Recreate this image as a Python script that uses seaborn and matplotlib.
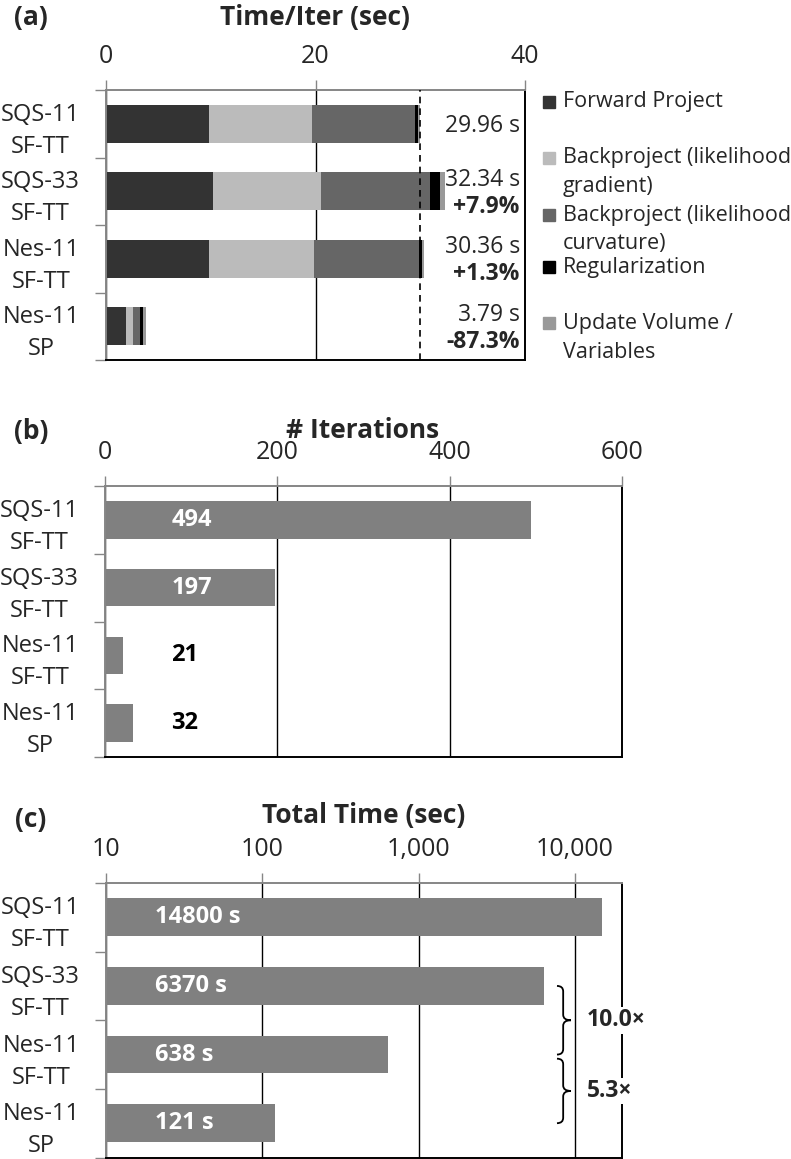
import numpy as np
import matplotlib.pyplot as plt
import seaborn as sns
from matplotlib.path import Path
from matplotlib.patches import PathPatch, Rectangle
import matplotlib.transforms as mtransforms
from matplotlib.ticker import FuncFormatter, NullLocator

sns.set_style('white')
plt.rcParams['font.family'] = ['Open Sans', 'DejaVu Sans']

# ==========================================
# DATA
# ==========================================
methods = ['SQS-11\nSF-TT', 'SQS-33\nSF-TT', 'Nes-11\nSF-TT', 'Nes-11\nSP']

components = ['Forward Project', 'Backproject (likelihood\ngradient)',
              'Backproject (likelihood\ncurvature)', 'Regularization',
              'Update Volume /\nVariables']
component_colors = ['#333333', '#bbbbbb', '#666666', '#000000', '#999999']

# seconds per iteration, per component
forward_project = [9.79, 10.22, 9.88, 1.88]
backproject_grad = [9.85, 10.29, 9.97, 0.65]
backproject_curv = [9.88, 10.42, 10.03, 0.73]
regularization = [0.26, 0.92, 0.25, 0.23]
update_volume = [0.18, 0.49, 0.23, 0.30]
time_per_iter = [29.96, 32.34, 30.36, 3.79]
time_change = ['', '+7.9%', '+1.3%', '-87.3%']

iterations = [494, 197, 21, 32]
total_time = [14800, 6370, 638, 121]
speedups = ['10.0×', '5.3×']

W, H = 791, 1159
GRAY = '#868686'
BAR_GRAY = '#808080'


def fig_axes(fig, left, top, right, bottom):
    # pixel box -> figure fraction
    return fig.add_axes([left / W, 1 - bottom / H, (right - left) / W, (bottom - top) / H])


def style_axes(ax, xticks):
    ax.xaxis.tick_top()
    ax.set_xticks(xticks)
    ax.xaxis.set_minor_locator(NullLocator())
    ax.tick_params(axis='x', which='major', length=7, width=1, color=GRAY,
                   pad=8, labelsize=18, top=True, bottom=False)
    ax.set_xlabel('')
    ax.set_ylabel('')
    ax.set_yticks(range(len(methods)))
    ax.set_yticklabels(methods, fontsize=17, linespacing=1.45, multialignment='center')
    ax.set_yticks(np.arange(-0.5, len(methods), 1), minor=True)
    ax.tick_params(axis='y', which='major', length=0, pad=19, left=True)
    ax.tick_params(axis='y', which='minor', length=8, width=1, color=GRAY, left=True)
    ax.set_ylim(len(methods) - 0.5, -0.5)
    ax.grid(axis='x', color='black', lw=1)
    ax.grid(axis='y', visible=False)
    ax.set_axisbelow(True)
    for side in ['top', 'left']:
        ax.spines[side].set_color(GRAY)
        ax.spines[side].set_linewidth(1.4)
    for side in ['right', 'bottom']:
        ax.spines[side].set_color('black')
        ax.spines[side].set_linewidth(1.4)
        ax.spines[side].set_visible(True)


def brace(ax, ya, yb, x0=0.874, xm=0.886, xt=0.901, d=0.08):
    ym = (ya + yb) / 2
    verts = [(x0, ya), (xm, ya), (xm, ya + d), (xm, ym - d), (xm, ym), (xt, ym),
             (xm, ym), (xm, ym + d), (xm, yb - d), (xm, yb), (x0, yb)]
    codes = [Path.MOVETO, Path.CURVE3, Path.CURVE3, Path.LINETO, Path.CURVE3, Path.CURVE3,
             Path.CURVE3, Path.CURVE3, Path.LINETO, Path.CURVE3, Path.CURVE3]
    trans = mtransforms.blended_transform_factory(ax.transAxes, ax.transData)
    ax.add_patch(PathPatch(Path(verts, codes), transform=trans, fill=False,
                           lw=1.3, color='black', clip_on=False, zorder=5))


fig = plt.figure(figsize=(W / 100, H / 100), dpi=100)

# ==========================================
# (a) Time per iteration, stacked
# ==========================================
ax_a = fig_axes(fig, 106, 90, 525, 360)
layers = np.cumsum(np.array([forward_project, backproject_grad, backproject_curv,
                             regularization, update_volume]), axis=0)
for i in range(len(components) - 1, -1, -1):
    sns.barplot(x=layers[i], y=methods, orient='h', color=component_colors[i],
                saturation=1, width=0.56, errorbar=None, linewidth=0, ax=ax_a)
ax_a.set_xlim(0, 40)
style_axes(ax_a, [0, 20, 40])
ax_a.axvline(time_per_iter[0], color='black', lw=1.2, ls=(0, (4, 3)), zorder=4)
for i, (t, ch) in enumerate(zip(time_per_iter, time_change)):
    if ch:
        ax_a.text(39.5, i - 0.17, f'{t:.2f} s', ha='right', va='center', fontsize=16.5)
        ax_a.text(39.5, i + 0.23, ch, ha='right', va='center', fontsize=16.5, fontweight='bold')
    else:
        ax_a.text(39.5, i + 0.04, f'{t:.2f} s', ha='right', va='center', fontsize=16.5)

# legend drawn by hand to match the spreadsheet layout
legend_y = [102, 158, 215, 267, 323]
for label, color, y in zip(components, component_colors, legend_y):
    fig.patches.append(Rectangle((543 / W, 1 - (y + 6) / H), 12 / W, 12 / H,
                                 transform=fig.transFigure, color=color))
    for k, line in enumerate(label.split('\n')):
        fig.text(563 / W, 1 - (y + 29 * k) / H, line, ha='left', va='center', fontsize=15.5)

fig.text(315 / W, 1 - 17 / H, 'Time/Iter (sec)', ha='center', va='center',
         fontsize=19, fontweight='bold')
fig.text(31 / W, 1 - 17 / H, '(a)', ha='center', va='center', fontsize=19, fontweight='bold')

# ==========================================
# (b) Number of iterations
# ==========================================
ax_b = fig_axes(fig, 105, 486, 622, 757)
sns.barplot(x=iterations, y=methods, orient='h', color=BAR_GRAY, saturation=1,
            width=0.55, errorbar=None, linewidth=0, ax=ax_b)
ax_b.set_xlim(0, 600)
style_axes(ax_b, [0, 200, 400, 600])
for i, n in enumerate(iterations):
    ax_b.text(77, i, str(n), ha='left', va='center', fontsize=17, fontweight='bold',
              color='white' if n > 77 else 'black')

fig.text(363 / W, 1 - 430 / H, '# Iterations', ha='center', va='center',
         fontsize=19, fontweight='bold')
fig.text(31 / W, 1 - 432 / H, '(b)', ha='center', va='center', fontsize=19, fontweight='bold')

# ==========================================
# (c) Total time, log scale
# ==========================================
ax_c = fig_axes(fig, 106, 883, 622, 1157.5)
sns.barplot(x=total_time, y=methods, orient='h', color=BAR_GRAY, saturation=1,
            width=0.55, errorbar=None, linewidth=0, ax=ax_c)
ax_c.set_xscale('log')
ax_c.set_xlim(10, 20000)
style_axes(ax_c, [10, 100, 1000, 10000])
ax_c.xaxis.set_major_formatter(FuncFormatter(lambda v, p: f'{v:,.0f}'))
for i, t in enumerate(total_time):
    ax_c.text(20.5, i, f'{t} s', ha='left', va='center', fontsize=17,
              fontweight='bold', color='white')

brace(ax_c, 1.0, 2.0)
brace(ax_c, 2.06, 3.0)
for (ya, yb), lab in zip([(1.0, 2.0), (2.06, 3.0)], speedups):
    ax_c.text(0.932, (ya + yb) / 2, lab, transform=mtransforms.blended_transform_factory(
        ax_c.transAxes, ax_c.transData), ha='left', va='center', fontsize=16.5,
        fontweight='bold', clip_on=False, zorder=6,
        bbox=dict(facecolor='white', edgecolor='none', pad=1))

fig.text(364 / W, 1 - 816 / H, 'Total Time (sec)', ha='center', va='center',
         fontsize=19, fontweight='bold')
fig.text(31 / W, 1 - 820 / H, '(c)', ha='center', va='center', fontsize=19, fontweight='bold')

fig.savefig('out.png', dpi=100)
plt.close()
